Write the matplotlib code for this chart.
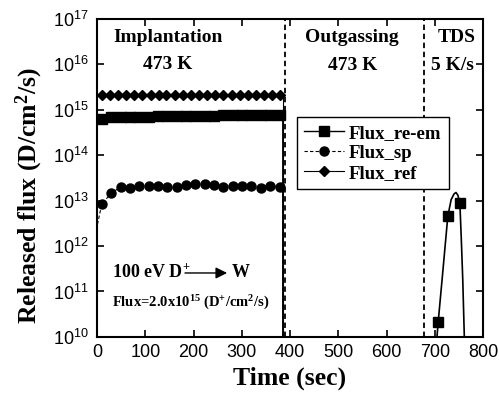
import matplotlib
matplotlib.use("Agg")
import matplotlib.pyplot as plt
import numpy as np

plt.rcParams['mathtext.fontset'] = 'custom'
plt.rcParams['mathtext.rm'] = 'Liberation Serif:bold'
plt.rcParams['mathtext.bf'] = 'Liberation Serif:bold'
plt.rcParams['mathtext.it'] = 'Liberation Serif:bold:italic'

# implantation phase (marker times, sec)
t_impl = [10, 30, 49, 68, 88, 107, 127, 146, 166, 185, 204, 224, 243, 262, 282, 301, 320, 340, 359, 379]
reem_impl = [6.2e14, 6.7e14, 6.8e14, 6.9e14, 7.0e14, 7.0e14, 7.1e14, 7.1e14, 7.2e14, 7.2e14,
             7.3e14, 7.3e14, 7.3e14, 7.4e14, 7.4e14, 7.4e14, 7.5e14, 7.5e14, 7.5e14, 7.5e14]
sp_impl = [8.5e12, 1.45e13, 2.0e13, 1.87e13, 2.1e13, 2.13e13, 2.1e13, 2.0e13, 2.0e13, 2.16e13,
           2.3e13, 2.3e13, 2.2e13, 2.0e13, 2.1e13, 2.1e13, 2.1e13, 1.85e13, 2.05e13, 2.0e13]
t_ref = [10, 27, 44, 61, 77, 94, 111, 128, 144, 161, 178, 195, 212, 228, 245, 262, 279, 296,
         312, 329, 346, 363, 380]
ref_impl = [2.1e15] * 23
t_sp0, sp0 = 1, 3.0e12          # start of sputter curve
t_end = 385                     # end of implantation (flux drops)

# TDS phase re-emission curve
t_tds = [700, 707, 717, 727, 734, 740, 744, 748, 752, 755, 758, 762]
reem_tds = [2.5e9, 2.1e10, 3.0e11, 4.5e12, 1.05e13, 1.4e13, 1.5e13, 1.3e13, 8.7e12, 1.4e12, 1.8e11, 5e9]
tds_marks = [1, 3, 8]

# phase boundaries
t_bounds = [390, 677]

fig = plt.figure(figsize=(4.99, 4.03), dpi=100)
ax = fig.add_axes([0.1944, 0.1638, 0.7736, 0.7902])

serif = 'Liberation Serif'

x = t_impl + [t_end, t_end]
y = reem_impl + [reem_impl[-1], 1e8]
ax.plot(x, y, '-', color='black', lw=1.0, marker='s', ms=7, markevery=list(range(len(t_impl))),
        label='Flux_re-em')
x = [t_sp0] + t_impl + [t_end, t_end]
y = [sp0] + sp_impl + [sp_impl[-1], 1e8]
ax.plot(x, y, color='black', lw=0.8, ls=(0, (3, 2)), marker='o', ms=6.5,
        markevery=list(range(1, len(t_impl) + 1)), label='Flux_sp')
x = t_ref + [t_end, t_end]
y = ref_impl + [ref_impl[-1], 1e8]
ax.plot(x, y, '-', color='black', lw=0.8, marker='D', ms=5, markevery=list(range(len(t_ref))),
        label='Flux_ref')
ax.plot(t_tds, reem_tds, '-', color='black', lw=1.2, marker='s', ms=7, markevery=tds_marks)

for tb in t_bounds:
    ax.axvline(tb, color='black', lw=1.3, ls=(0, (3, 2)))

ax.set_yscale('log')
ax.set_xlim(0, 800)
ax.set_ylim(1e10, 1e17)
ax.set_xticks(range(0, 801, 100))
ax.set_yticks([10.0 ** k for k in range(10, 18)])
ax.minorticks_off()
ax.tick_params(which='both', direction='in', top=True, right=True, length=5, width=1.2,
               labelsize=13, labelfontfamily='Liberation Sans')
ax.tick_params(axis='x', pad=5)
ax.tick_params(axis='y', pad=6)
for s in ax.spines.values():
    s.set_linewidth(1.5)

ax.set_xlabel('Time (sec)', fontsize=18.5, fontweight='bold', family=serif, labelpad=4)
ax.set_ylabel('Released flux (D/cm$^{\\mathdefault{2}}$/s)', fontsize=18.5, fontweight='bold',
              family=serif)
ax.yaxis.set_label_coords(-0.135, 0.445)

tk = dict(transform=ax.transAxes, family=serif, fontweight='bold', fontsize=14,
          ha='center', va='center')
ax.text(0.185, 0.939, 'Implantation', **tk)
ax.text(0.183, 0.857, '473 K', **tk)
ax.text(0.660, 0.939, 'Outgassing', **tk)
ax.text(0.663, 0.851, '473 K', **tk)
ax.text(0.933, 0.939, 'TDS', **tk)
ax.text(0.920, 0.854, '5 K/s', **tk)

ax.text(0.039, 0.204, '100 eV D$^{\\mathdefault{+}}$', transform=ax.transAxes, family=serif,
        fontweight='bold', fontsize=13, ha='left', va='center')
ax.annotate('', xy=(0.337, 0.201), xytext=(0.228, 0.201), xycoords='axes fraction',
            arrowprops=dict(arrowstyle='-|>', color='black', lw=1.0, mutation_scale=17,
                            shrinkA=0, shrinkB=0))
ax.text(0.35, 0.204, 'W', transform=ax.transAxes, family=serif,
        fontweight='bold', fontsize=13, ha='left', va='center')
ax.text(0.039, 0.107,
        'Flux=2.0x10$^{\\mathdefault{15}}$ (D$^{\\mathdefault{+}}$/cm$^{\\mathdefault{2}}$/s)',
        transform=ax.transAxes, family=serif, fontweight='bold', fontsize=10.5, ha='left', va='center')

leg = ax.legend(loc='upper left', bbox_to_anchor=(0.518, 0.69), borderaxespad=0,
                prop=dict(family=serif, weight='bold', size=13.5), handlelength=2.1,
                handletextpad=0.25, labelspacing=0.15, borderpad=0.4, fancybox=False,
                framealpha=1, edgecolor='black')
leg.get_frame().set_linewidth(1.0)

fig.savefig('out.png', dpi=100)
